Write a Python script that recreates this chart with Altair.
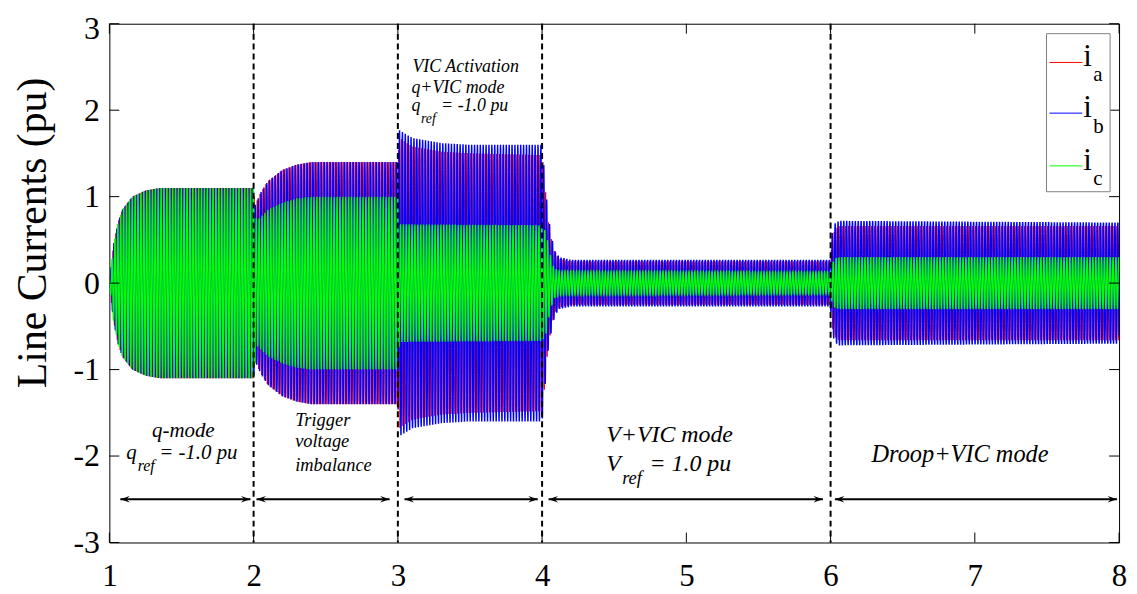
import numpy as np
import pandas as pd
import altair as alt

alt.data_transformers.disable_max_rows()

# ---------------- data ----------------
X_TICKS = [1, 2, 3, 4, 5, 6, 7, 8]
Y_TICKS = [-3, -2, -1, 0, 1, 2, 3]
EVENT_TIMES = [2, 3, 4, 6]

F_HZ = 50          # line frequency of the currents
FS = 1200          # samples per second used for drawing

# envelope (peak amplitude, pu) key points of each phase current
ENV_T_A = [1.00, 1.03, 1.06, 1.09, 1.16, 1.25, 1.35, 2.00, 2.01, 2.05, 2.10, 2.20, 2.30, 2.40,
           3.00, 3.01, 3.10, 3.30, 3.50, 4.00, 4.02, 4.04, 4.07, 4.09, 4.12, 4.20,
           6.00, 6.01, 6.03, 6.06, 8.00]
ENV_A_A = [0.00, 0.45, 0.70, 0.85, 1.00, 1.07, 1.10, 1.10, 0.90, 1.05, 1.18, 1.31, 1.37, 1.40,
           1.40, 1.68, 1.58, 1.52, 1.50, 1.48, 1.15, 0.75, 0.46, 0.34, 0.28, 0.25,
           0.25, 0.50, 0.62, 0.66, 0.66]

ENV_T_B = ENV_T_A
ENV_A_B = [0.00, 0.45, 0.70, 0.85, 1.00, 1.07, 1.10, 1.10, 0.90, 1.05, 1.18, 1.31, 1.37, 1.40,
           1.40, 1.77, 1.68, 1.62, 1.60, 1.60, 1.20, 0.80, 0.50, 0.37, 0.30, 0.27,
           0.27, 0.57, 0.69, 0.72, 0.70]

ENV_T_C = [1.00, 1.03, 1.06, 1.09, 1.16, 1.25, 1.35, 2.00, 2.02, 2.10, 2.20, 2.30, 2.40,
           3.00, 3.01, 4.00, 4.03, 4.05, 4.08, 4.12, 6.00, 6.01, 6.03, 6.06, 8.00]
ENV_A_C = [0.00, 0.45, 0.70, 0.85, 1.00, 1.07, 1.10, 1.10, 0.72, 0.85, 0.93, 0.98, 1.00,
           1.00, 0.68, 0.67, 0.58, 0.38, 0.18, 0.14, 0.13, 0.22, 0.29, 0.30, 0.30]

PHASE_NAMES = ["a", "b", "c"]
PHASE_COLORS = ["#ff0000", "#0000ff", "#00ff00"]
PHASE_WIDTHS = [1.0, 1.45, 1.3]
PHASE_SHIFT = [0.0, -2 * np.pi / 3, 2 * np.pi / 3]
ENVELOPES = [(ENV_T_A, ENV_A_A), (ENV_T_B, ENV_A_B), (ENV_T_C, ENV_A_C)]

# mode arrows (tip positions, s)
ARROW_START = [1.076, 2.020, 3.046, 4.045, 6.030]
ARROW_END = [1.978, 2.943, 3.970, 5.947, 7.986]
ARROW_LEVEL = -2.5

# ---------------- layout ----------------
W, H = 1016, 522
SERIF = "Liberation Serif"
XS = alt.Scale(domain=[1, 8], nice=False, zero=False)
YS = alt.Scale(domain=[-3, 3], nice=False, zero=False)

AX_X = alt.Axis(
    values=X_TICKS, title=None, grid=False, ticks=False, domain=False,
    labelFont=SERIF, labelFontSize=31, labelColor="black",
    labelPadding=43, labelBaseline="alphabetic", labelFlush=False,
    labelExpr="'' + datum.value")
AX_Y = alt.Axis(
    values=Y_TICKS, title="Line Currents (pu)", grid=False, ticks=False, domain=False,
    labelFont=SERIF, labelFontSize=32, labelColor="black", labelPadding=10,
    labelFlush=False, labelExpr="'' + datum.value",
    labelOffset={"condition": {"test": "datum.value == 3", "value": 5}, "value": 0},
    titleFont=SERIF, titleFontSize=42, titleFontWeight="normal", titleColor="black",
    titleAngle=270, titleX=-64, titleY=210, titleAlign="center",
    titleBaseline="alphabetic")


def X(f):
    return alt.X(f, type="quantitative", scale=XS, axis=AX_X)


def Y(f):
    return alt.Y(f, type="quantitative", scale=YS, axis=AX_Y)


# ---------------- waveforms ----------------
t = np.arange(0, int(7 * FS) + 1) / FS + 1.0
wave_layers = []
for name, col, wid, ph, (kt, ka) in zip(PHASE_NAMES, PHASE_COLORS, PHASE_WIDTHS,
                                        PHASE_SHIFT, ENVELOPES):
    env = np.interp(t, kt, ka)
    v = env * np.sin(2 * np.pi * F_HZ * (t - 1.0) + ph)
    df = pd.DataFrame({"t": np.round(t, 5), "v": np.round(v, 4)})
    wave_layers.append(
        alt.Chart(df).mark_line(color=col, strokeWidth=wid, clip=True).encode(
            x=X("t"), y=Y("v"), order=alt.Order("t:Q")
        )
    )

# inner tick marks on all four sides
yt = pd.DataFrame({"v": Y_TICKS})
xt = pd.DataFrame({"t": X_TICKS})
tick_left = alt.Chart(yt).mark_rule(color="black").encode(y=Y("v"), x=alt.value(0), x2=alt.value(10))
tick_right = alt.Chart(yt).mark_rule(color="black").encode(y=Y("v"), x=alt.value(W - 10), x2=alt.value(W))
tick_bottom = alt.Chart(xt).mark_rule(color="black").encode(x=X("t"), y=alt.value(H - 10), y2=alt.value(H))
tick_top = alt.Chart(xt).mark_rule(color="black").encode(x=X("t"), y=alt.value(0), y2=alt.value(10))

# event dashed lines
ev = pd.DataFrame({"t": EVENT_TIMES})
dashed = alt.Chart(ev).mark_rule(color="black", strokeWidth=2, strokeDash=[6, 4]).encode(x=X("t"))

# arrows
arr = pd.DataFrame({"t": ARROW_START, "t2": ARROW_END, "v": [ARROW_LEVEL] * len(ARROW_START)})
arrow_line = alt.Chart(arr).mark_rule(color="black", strokeWidth=2).encode(
    x=X("t"), x2="t2", y=Y("v"))
head_left = alt.Chart(arr).mark_point(
    shape="M0,0L2,-0.7L1.3,0L2,0.7Z", size=90, filled=True, color="black", opacity=1
).encode(x=X("t"), y=Y("v"))
head_right = alt.Chart(arr).mark_point(
    shape="M0,0L-2,-0.7L-1.3,0L-2,0.7Z", size=90, filled=True, color="black", opacity=1
).encode(x=X("t2"), y=Y("v"))

# annotation texts (italic); subscripts are separate pieces
notes = pd.DataFrame([
    (1.296, -1.782, "q-mode", 21),
    (1.117, -2.034, "q", 21),
    (1.196, -2.172, "ref", 16),
    (1.345, -2.034, "= -1.0 pu", 21),
    (2.288, -1.655, "Trigger", 18.5),
    (2.288, -1.897, "voltage", 18.5),
    (2.288, -2.172, "imbalance", 18.5),
    (3.101, 2.437, "VIC Activation", 18),
    (3.094, 2.195, "q+VIC mode", 18),
    (3.094, 1.989, "q", 18),
    (3.160, 1.851, "ref", 14),
    (3.300, 1.989, "= -1.0 pu", 18),
    (4.445, -1.839, "V+VIC mode", 24),
    (4.445, -2.172, "V", 24),
    (4.555, -2.322, "ref", 18.5),
    (4.745, -2.172, "= 1.0 pu", 24),
    (6.284, -2.069, "Droop+VIC mode", 24.5),
], columns=["t", "v", "text", "size"])
note_text = alt.Chart(notes).mark_text(
    align="left", baseline="alphabetic", font=SERIF, fontStyle="italic", color="black"
).encode(x=X("t"), y=Y("v"), text="text:N",
         size=alt.Size("size:Q", scale=None, legend=None))

# legend box
box = pd.DataFrame({"t": [7.497], "t2": [7.938], "v": [2.885], "v2": [1.057]})
leg_box = alt.Chart(box).mark_rect(fill="white", stroke="#808080", strokeWidth=1).encode(
    x=X("t"), x2="t2", y=Y("v"), y2="v2")
leg_rows = pd.DataFrame({
    "name": PHASE_NAMES,
    "color": PHASE_COLORS,
    "t": [7.518] * 3, "t2": [7.745] * 3,
    "v": [2.552, 1.966, 1.356],
    "ti": [7.752] * 3, "vi": [2.506, 1.920, 1.310],
    "ts": [7.821] * 3, "vs": [2.333, 1.735, 1.138],
    "i": ["i"] * 3,
})
leg_lines = alt.Chart(leg_rows).mark_rule(strokeWidth=1).encode(
    x=X("t"), x2="t2", y=Y("v"),
    color=alt.Color("color:N", scale=None, legend=None))
leg_i = alt.Chart(leg_rows).mark_text(
    align="left", baseline="alphabetic", font=SERIF, fontSize=31, color="black"
).encode(x=X("ti"), y=Y("vi"), text="i:N")
leg_sub = alt.Chart(leg_rows).mark_text(
    align="left", baseline="alphabetic", font=SERIF, fontSize=21, color="black"
).encode(x=X("ts"), y=Y("vs"), text="name:N")

chart = alt.layer(
    *wave_layers, dashed, arrow_line, head_left, head_right, note_text,
    tick_left, tick_right, tick_bottom, tick_top,
    leg_box, leg_lines, leg_i, leg_sub,
).properties(
    width=W, height=H,
    autosize=alt.AutoSizeParams(type="none"),
    padding={"left": 102, "top": 14, "right": 10, "bottom": 50},
    background="white",
).configure_view(
    stroke="black", strokeWidth=1
)

chart.save("out.html", embed_options={"renderer": "svg", "actions": False})
